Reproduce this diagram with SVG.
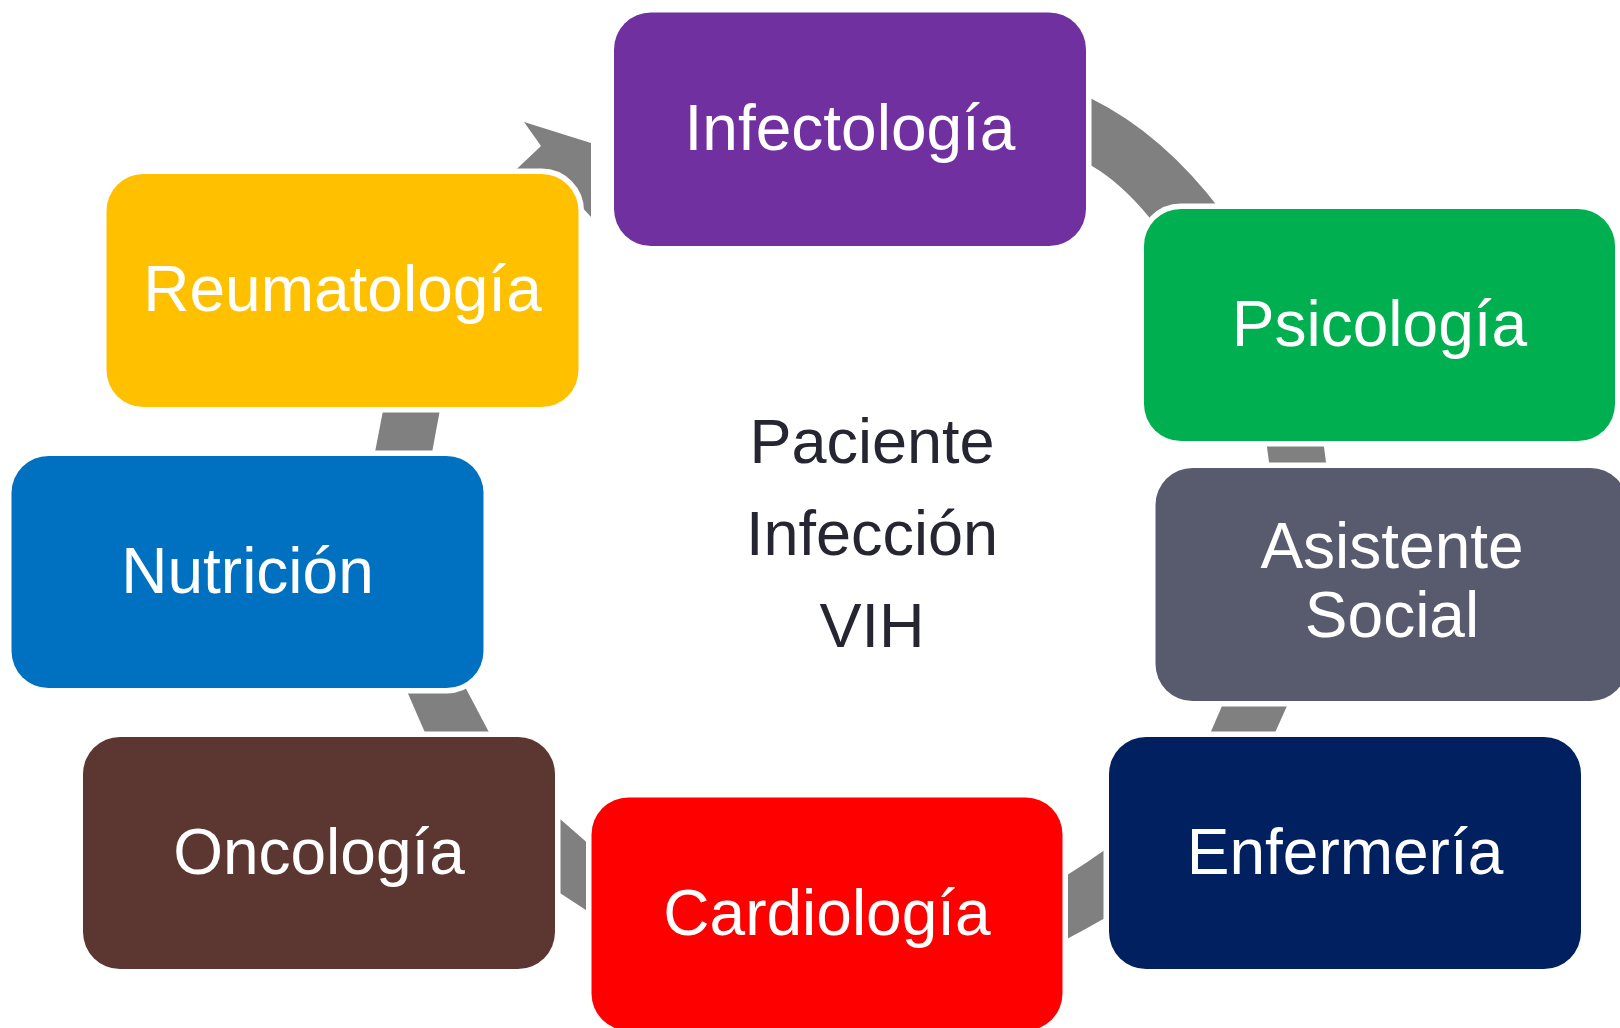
<svg xmlns="http://www.w3.org/2000/svg" width="1620" height="1028" viewBox="0 0 1620 1028">
  <style>
    .arrow { fill: #808080; stroke: none; }
    .node rect { stroke: #ffffff; stroke-width: 11; paint-order: stroke; }
    .label { font-family: "Liberation Sans", Arial, sans-serif; font-size: 64px; fill: #ffffff; text-anchor: middle; }
    .center { font-family: "Liberation Sans", Arial, sans-serif; font-size: 63px; fill: #262632; text-anchor: middle; }
  </style>
  <rect width="1620" height="1028" fill="#ffffff"/>
  <g id="connectors">
    <path class="arrow" d="M524,122 L591,143 L591,217 Q565,185 505,180 L541,146 Z"/>
    <path class="arrow" d="M1078,92 L1092,99 Q1163,134 1222,212 L1240,240 L1165,240 L1149,217 Q1121,183 1092,166 L1078,160 Z"/>
    <path class="arrow" d="M1265.4,435 L1322.4,435 L1327.7,475 L1270.7,475 Z"/>
    <path class="arrow" d="M1227.2,694 L1292.4,694 L1269.9,744 L1205.6,744 Z"/>
    <path class="arrow" d="M1050,885.4 Q1090,862 1120,838.6 L1120,909.6 Q1085,930 1050,948.1 Z"/>
    <path class="arrow" d="M540,801.6 L605,858.3 L605,922.4 L540,880.1 Z"/>
    <path class="arrow" d="M399.9,675 L458.8,675 L495.7,745 L430.4,745 Z"/>
    <path class="arrow" d="M385.1,400 L441.8,400 L429.7,465 L372.5,465 Z"/>
  </g>
  <g id="node-infectologia" class="node">
    <rect x="614" y="12.5" width="472" height="233.5" rx="37" fill="#7030A0"/>
    <text class="label" x="850" y="150">Infectología</text>
  </g>
  <g id="node-psicologia" class="node">
    <rect x="1144" y="209" width="471" height="232" rx="37" fill="#00B050"/>
    <text class="label" x="1379.5" y="346">Psicología</text>
  </g>
  <g id="node-asistente-social" class="node">
    <rect x="1155.5" y="468" width="472" height="233" rx="37" fill="#585A6E"/>
    <text class="label" x="1392" y="568">Asistente</text>
    <text class="label" x="1392" y="637">Social</text>
  </g>
  <g id="node-enfermeria" class="node">
    <rect x="1109" y="737" width="472" height="232" rx="37" fill="#002060"/>
    <text class="label" x="1345" y="874">Enfermería</text>
  </g>
  <g id="node-cardiologia" class="node">
    <rect x="591.5" y="797.5" width="471" height="233" rx="37" fill="#FF0000"/>
    <text class="label" x="827" y="935">Cardiología</text>
  </g>
  <g id="node-oncologia" class="node">
    <rect x="83" y="737" width="472" height="232" rx="37" fill="#5C3630"/>
    <text class="label" x="319" y="874">Oncología</text>
  </g>
  <g id="node-nutricion" class="node">
    <rect x="11.5" y="456" width="472" height="232" rx="37" fill="#0070C0"/>
    <text class="label" x="247.5" y="593">Nutrición</text>
  </g>
  <g id="node-reumatologia" class="node">
    <rect x="106.5" y="174" width="472" height="233" rx="37" fill="#FFC000"/>
    <text class="label" x="342.5" y="311">Reumatología</text>
  </g>
  <g id="node-center">
    <text class="center" x="872" y="463">Paciente</text>
    <text class="center" x="872" y="555">Infección</text>
    <text class="center" x="872" y="647">VIH</text>
  </g>
</svg>
